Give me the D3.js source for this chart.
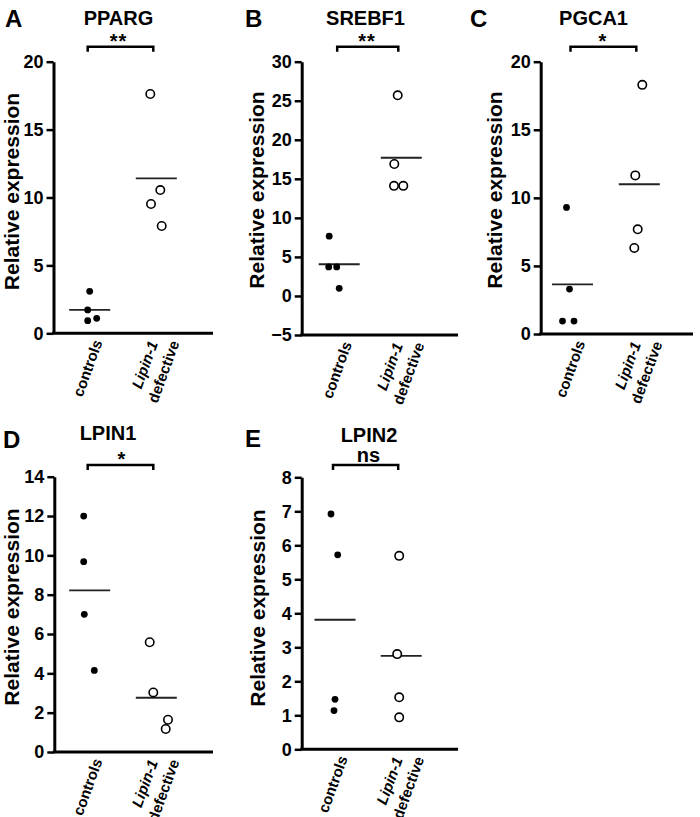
<!DOCTYPE html>
<html><head><meta charset="utf-8">
<script src="https://cdn.jsdelivr.net/npm/d3@7"></script>
<style>
body{margin:0;background:#fff}
svg text{font-family:"Liberation Sans",Arial,Helvetica,sans-serif;font-weight:bold;fill:#000}
</style>
</head><body>
<svg id="chart" width="700" height="817"></svg>
<script>
// ---- data ----
const groups = ["controls", "Lipin-1 defective"];
const groupLines = [["controls"], ["Lipin-1", "defective"]];
const panelLetters = ["A", "B", "C", "D", "E"];
const genes = ["PPARG", "SREBF1", "PGCA1", "LPIN1", "LPIN2"];
const significance = ["**", "**", "*", "*", "ns"];
const yLabel = "Relative expression";

const ppargControls = [3.09, 1.72, 0.93, 1.10];
const ppargLipin = [17.62, 10.55, 9.52, 7.90];
const ppargMeans = [1.72, 11.41];
const ppargTicks = [0, 5, 10, 15, 20];

const srebf1Controls = [7.65, 3.72, 3.72, 0.98];
const srebf1Lipin = [25.7, 16.9, 14.1, 14.1];
const srebf1Means = [4.06, 17.7];
const srebf1Ticks = [-5, 0, 5, 10, 15, 20, 25, 30];

const pgca1Controls = [9.3, 3.3, 0.95, 0.95];
const pgca1Lipin = [18.3, 11.65, 7.69, 6.32];
const pgca1Means = [3.65, 11.0];
const pgca1Ticks = [0, 5, 10, 15, 20];

const lpin1Controls = [12.0, 9.68, 7.0, 4.15];
const lpin1Lipin = [5.58, 3.03, 1.64, 1.17];
const lpin1Means = [8.22, 2.76];
const lpin1Ticks = [0, 2, 4, 6, 8, 10, 12, 14];

const lpin2Controls = [6.92, 5.72, 1.47, 1.14];
const lpin2Lipin = [5.69, 2.80, 1.53, 0.94];
const lpin2Means = [3.81, 2.75];
const lpin2Ticks = [0, 1, 2, 3, 4, 5, 6, 7, 8];

// horizontal scatter offsets of the dots (px), as seen in the figure
const jitterControls = [[0, -2, -2, 7], [-10, -10.5, -2.5, 0], [-6, -3, -10, 1.5], [-6, -6, -5.4, 4.6], [-4, 2.7, 0, -1]];
const jitterLipin = [[-6, 4, -5.3, 5.4], [-3.6, -7, -7.3, 2], [3, -4, -1.6, -5], [-6.6, -3, 11.7, 9.4], [-2, -4, -2, -2]];

const controlsSets = [ppargControls, srebf1Controls, pgca1Controls, lpin1Controls, lpin2Controls];
const lipinSets = [ppargLipin, srebf1Lipin, pgca1Lipin, lpin1Lipin, lpin2Lipin];
const meanSets = [ppargMeans, srebf1Means, pgca1Means, lpin1Means, lpin2Means];
const tickSets = [ppargTicks, srebf1Ticks, pgca1Ticks, lpin1Ticks, lpin2Ticks];

// ---- layout (positions only) ----
const layout = [
  {left: 53.5, top: 61.7, bottom: 333.3, right: 213, c1: 36.2, c2: 102.8, letter: [5, 27], title: [118.5, 25], ylab: [12, 191.5], bracketY: 46.7, sigX: 118.5},
  {left: 301.7, top: 61.7, bottom: 335, right: 458, c1: 37.5, c2: 99.6, letter: [245, 27], title: [365.5, 25], ylab: [257, 190], bracketY: 46.7, sigX: 367},
  {left: 540.7, top: 61.7, bottom: 334, right: 693, c1: 31.8, c2: 98.6, letter: [470, 27], title: [593.5, 25], ylab: [495, 190], bracketY: 46.7, sigX: 603},
  {left: 54.3, top: 476.7, bottom: 752, right: 213, c1: 35.4, c2: 102, letter: [3, 448], title: [108, 440], ylab: [12, 607], bracketY: 465, sigX: 122},
  {left: 301.7, top: 477.3, bottom: 749.3, right: 458, c1: 33.3, c2: 99.5, letter: [245, 447], title: [369, 442], ylab: [258, 608], bracketY: 465, sigX: 368.5}
];

const svg = d3.select("#chart");

panelLetters.forEach((letter, i) => {
  const L = layout[i];
  const ticks = tickSets[i];
  const g = svg.append("g");

  const y = d3.scaleLinear().domain(d3.extent(ticks)).range([L.bottom, L.top]);
  const x = d3.scalePoint().domain(groups).range([L.left + L.c1, L.left + L.c2]);

  // y axis
  const ya = g.append("g")
    .attr("transform", `translate(${L.left},0)`)
    .call(d3.axisLeft(y).tickValues(ticks).tickSize(7).tickPadding(3).tickSizeOuter(0));
  ya.attr("font-size", 18).attr("font-family", null);
  ya.select(".domain").attr("stroke", "#000").attr("stroke-width", 3);
  ya.selectAll(".tick line").attr("stroke", "#000").attr("stroke-width", 2.5);
  ya.selectAll(".tick text").attr("fill", "#000");

  // x axis line
  g.append("line")
    .attr("x1", L.left - 1.5).attr("x2", L.right)
    .attr("y1", y(ticks[0])).attr("y2", y(ticks[0]))
    .attr("stroke", "#000").attr("stroke-width", 3);

  // x labels (rotated, centred blocks)
  groups.forEach((grp, gi) => {
    const lines = groupLines[gi];
    const lg = g.append("g")
      .attr("transform", `translate(${x(grp) - 2},${y(ticks[0]) + 35}) rotate(-70)`);
    lines.forEach((ln, li) => {
      lg.append("text")
        .attr("x", 0)
        .attr("y", (li - (lines.length - 1) / 2) * 20 + 5)
        .attr("text-anchor", "middle")
        .attr("font-size", 15)
        .attr("font-style", ln === "Lipin-1" ? "italic" : "normal")
        .text(ln);
    });
  });

  // y label
  g.append("text")
    .attr("transform", `translate(${L.ylab[0]},${L.ylab[1]}) rotate(-90)`)
    .attr("text-anchor", "middle")
    .attr("dy", "0.35em")
    .attr("font-size", 21)
    .text(yLabel);

  // panel letter & title
  g.append("text").attr("x", L.letter[0]).attr("y", L.letter[1]).attr("font-size", 24).text(letter);
  g.append("text").attr("x", L.title[0]).attr("y", L.title[1]).attr("text-anchor", "middle").attr("font-size", 20).text(genes[i]);

  // significance bracket
  const bx1 = x(groups[0]) - 2, bx2 = x(groups[1]) - 3, by = L.bracketY;
  g.append("path")
    .attr("d", `M${bx1},${by + 5}V${by}H${bx2}V${by + 5}`)
    .attr("fill", "none").attr("stroke", "#000").attr("stroke-width", 2.5);
  const sig = significance[i];
  g.append("text")
    .attr("x", L.sigX)
    .attr("y", sig === "ns" ? by - 3 : by + 1)
    .attr("text-anchor", "middle")
    .attr("font-size", 20)
    .attr("letter-spacing", sig === "ns" ? 0 : 1)
    .text(sig);

  // mean lines
  meanSets[i].forEach((m, gi) => {
    const cx = x(groups[gi]);
    g.append("line")
      .attr("x1", cx - 20.5).attr("x2", cx + 20.5)
      .attr("y1", y(m)).attr("y2", y(m))
      .attr("stroke", "#222").attr("stroke-width", 1.8);
  });

  // controls: filled dots
  g.selectAll("circle.ctrl").data(controlsSets[i]).enter().append("circle")
    .attr("class", "ctrl")
    .attr("cx", (d, k) => x(groups[0]) + jitterControls[i][k])
    .attr("cy", d => y(d))
    .attr("r", 3.4)
    .attr("fill", "#000");

  // lipin-1 defective: open circles
  g.selectAll("circle.lip").data(lipinSets[i]).enter().append("circle")
    .attr("class", "lip")
    .attr("cx", (d, k) => x(groups[1]) + jitterLipin[i][k])
    .attr("cy", d => y(d))
    .attr("r", 4.2)
    .attr("fill", "#fff")
    .attr("stroke", "#000")
    .attr("stroke-width", 1.6);
});
</script>
</body></html>
